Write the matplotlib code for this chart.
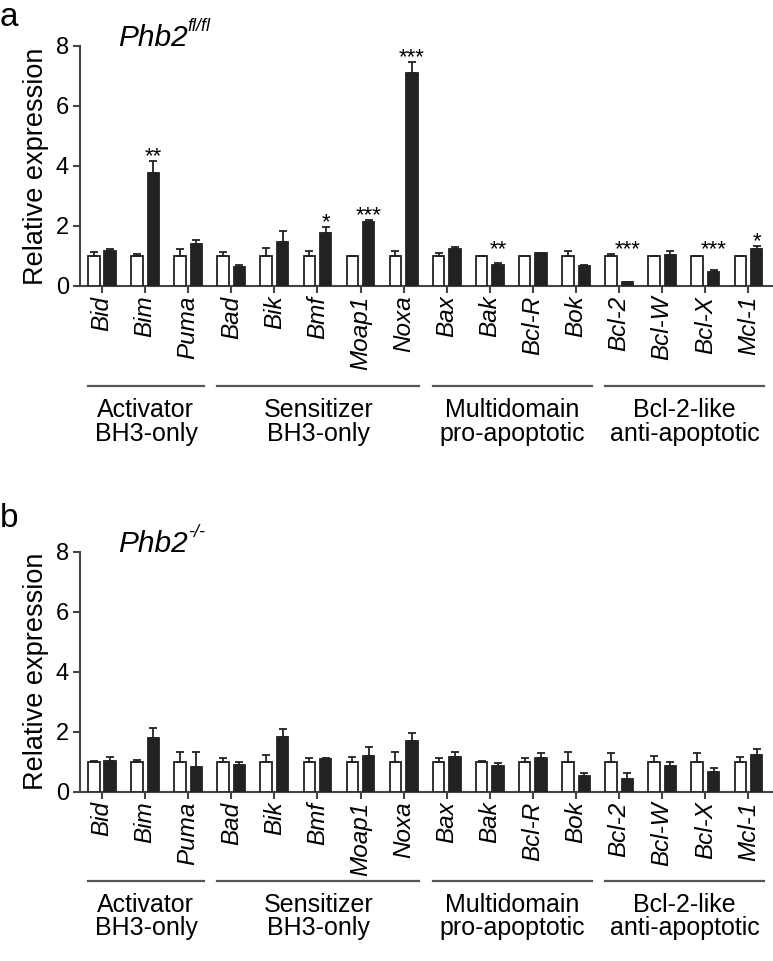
import matplotlib
matplotlib.use('Agg')
import matplotlib.pyplot as plt
import matplotlib.transforms as mtrans
import numpy as np

plt.rcParams['font.family'] = ['Liberation Sans', 'DejaVu Sans']

genes = ['Bid', 'Bim', 'Puma', 'Bad', 'Bik', 'Bmf', 'Moap1', 'Noxa',
         'Bax', 'Bak', 'Bcl-R', 'Bok', 'Bcl-2', 'Bcl-W', 'Bcl-X', 'Mcl-1']

# groups: label, first gene index, last gene index
groups = [('Activator\nBH3-only', 0, 2),
          ('Sensitizer\nBH3-only', 3, 7),
          ('Multidomain\npro-apoptotic', 8, 11),
          ('Bcl-2-like\nanti-apoptotic', 12, 15)]

# panel a  (Phb2 fl/fl)
a_ctrl = [1.0] * 16
a_ctrl_err = [0.12, 0.07, 0.22, 0.12, 0.26, 0.16, 0.01, 0.18,
              0.10, 0.005, 0.01, 0.16, 0.08, 0.005, 0.01, 0.01]
a_ko = [1.16, 3.78, 1.39, 0.62, 1.47, 1.77, 2.13, 7.11,
        1.23, 0.71, 1.09, 0.67, 0.13, 1.03, 0.48, 1.24]
a_ko_err = [0.07, 0.39, 0.13, 0.08, 0.37, 0.20, 0.07, 0.36,
            0.07, 0.07, 0.02, 0.04, 0.01, 0.13, 0.05, 0.08]
a_stars = ['', '**', '', '', '', '*', '***', '***',
           '', '**', '', '', '***', '', '***', '*']

# panel b  (Phb2 -/-)
b_ctrl = [1.0] * 16
b_ctrl_err = [0.03, 0.05, 0.34, 0.11, 0.24, 0.12, 0.17, 0.34,
              0.14, 0.03, 0.14, 0.32, 0.28, 0.20, 0.28, 0.16]
b_ko = [1.01, 1.78, 0.82, 0.88, 1.83, 1.09, 1.19, 1.68,
        1.17, 0.87, 1.13, 0.53, 0.44, 0.87, 0.66, 1.23]
b_ko_err = [0.16, 0.33, 0.49, 0.10, 0.25, 0.04, 0.29, 0.29,
            0.16, 0.10, 0.16, 0.11, 0.17, 0.11, 0.14, 0.20]
b_stars = [''] * 16

dark = '#222222'
spine_c = '#444444'

fig = plt.figure(figsize=(7.73, 9.61), dpi=100)
W, H = 773.0, 961.0


def panel(rect, ctrl, ctrl_err, ko, ko_err, stars, sup, line_y, lab_y):
    ax = fig.add_axes(rect)
    x = np.arange(len(genes))
    w = 0.265
    off = 0.19
    z = [0] * len(genes)
    ax.bar(x - off, ctrl, w, color='white', edgecolor=dark, linewidth=1.3,
           yerr=[z, ctrl_err], error_kw=dict(ecolor=dark, elinewidth=1.3, capsize=3, capthick=1.3),
           zorder=3)
    ax.bar(x + off, ko, w, color=dark, edgecolor=dark, linewidth=1.3,
           yerr=[z, ko_err], error_kw=dict(ecolor=dark, elinewidth=1.3, capsize=3, capthick=1.3),
           zorder=3)
    for i, s in enumerate(stars):
        if s:
            top = max(ko[i] + ko_err[i] + 0.3, 1.35) - 0.33
            ax.text(x[i] + off, top, s, ha='center', va='baseline', fontsize=16)
    ax.set_xlim(-0.51, 15.57)
    ax.set_ylim(0, 8)
    ax.set_yticks([0, 2, 4, 6, 8])
    ax.set_xticks(x)
    ax.set_xticklabels(genes, rotation=90, style='italic', fontsize=17.5)
    ax.tick_params(axis='y', labelsize=17, length=5, width=1.5, color=spine_c, pad=3)
    ax.tick_params(axis='x', length=5, width=1.5, color=spine_c, pad=2)
    for sp in ['top', 'right']:
        ax.spines[sp].set_visible(False)
    for sp in ['left', 'bottom']:
        ax.spines[sp].set_color(spine_c)
        ax.spines[sp].set_linewidth(1.5)
    ax.set_ylabel('Relative expression', fontsize=19.5, labelpad=5)
    trans = mtrans.blended_transform_factory(ax.transData, ax.transAxes)
    for name, i0, i1 in groups:
        ax.plot([i0 - 0.33, i1 + 0.36], [line_y, line_y], color='#555555', lw=1.6,
                transform=trans, clip_on=False)
        ax.text((i0 + i1) / 2.0 + 0.02, lab_y, name, transform=trans, ha='center', va='top',
                fontsize=18, linespacing=1.0)
    t = ax.text(0.055, 1.0, 'Phb2', transform=ax.transAxes, ha='left', va='baseline',
                fontsize=21.5, style='italic')
    ax.annotate(sup, xy=(1.0, 0.6), xycoords=t, ha='left', va='bottom',
                fontsize=13, style='italic')
    return ax


left = 80 / W
width = 1.0 - left
hgt = 240 / H
panel([left, 1 - 286 / H, width, hgt], a_ctrl, a_ctrl_err, a_ko, a_ko_err, a_stars,
      'fl/fl', -0.415, -0.465)
panel([left, 1 - 791.7 / H, width, hgt], b_ctrl, b_ctrl_err, b_ko, b_ko_err, b_stars,
      '-/-', -0.37, -0.42)

fig.text(0.0, 1 - 2 / H, 'a', fontsize=24, va='top', ha='left')
fig.text(0.0, 1 - 527 / H, 'b', fontsize=24, va='baseline', ha='left')

fig.savefig('out.png', dpi=100)
